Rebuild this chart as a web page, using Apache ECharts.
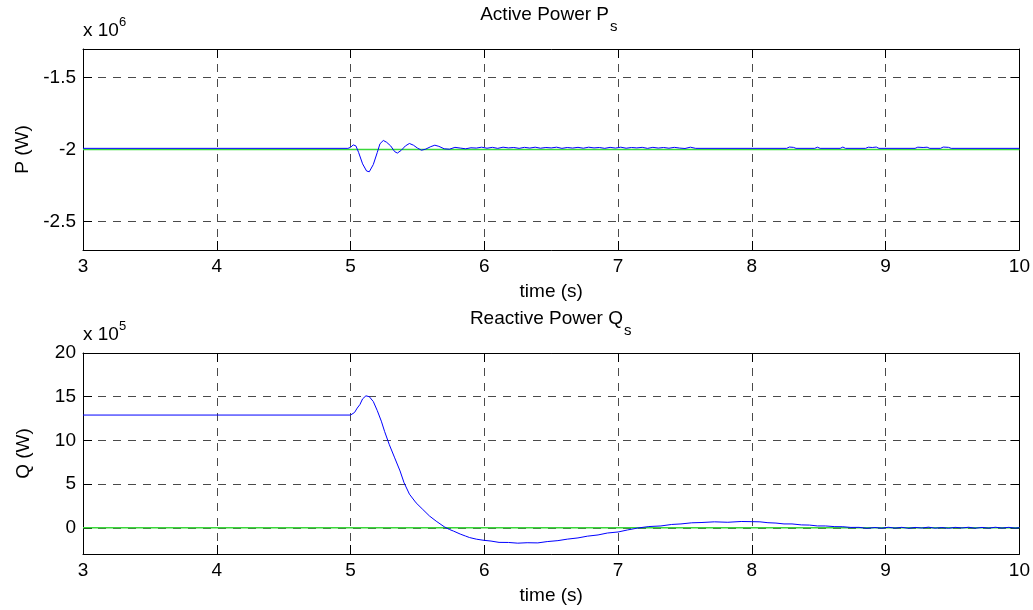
<!DOCTYPE html>
<html>
<head>
<meta charset="utf-8">
<script src="https://cdn.jsdelivr.net/npm/echarts@6/dist/echarts.min.js"></script>
<style>
html,body{margin:0;padding:0;background:#fff;}
#chart{width:1033px;height:610px;}
</style>
</head>
<body>
<div id="chart"></div>
<script>
// ---- data (P in units of 10^6 W, Q in units of 10^5 W, time in s) ----
const pTime = [3.00, 4.98, 5.00, 5.02, 5.04, 5.06, 5.09, 5.12, 5.14, 5.17, 5.20, 5.22, 5.245, 5.27, 5.30, 5.33, 5.35, 5.38, 5.41, 5.44, 5.47, 5.50, 5.53, 5.56, 5.60, 5.63, 5.66, 5.70, 5.74, 5.78, 5.82, 5.86, 5.90,
  5.94, 5.98, 6.02, 6.06, 6.10, 6.14, 6.18, 6.22, 6.26, 6.30, 6.34, 6.38, 6.42, 6.46, 6.50, 6.54, 6.58, 6.62, 6.66, 6.70, 6.74, 6.78, 6.82, 6.86, 6.90, 6.94, 6.98, 7.02, 7.06, 7.10, 7.14, 7.18, 7.22, 7.26, 7.30, 7.34, 7.38, 7.42, 7.46, 7.50, 7.54, 7.58,
  8.26, 8.28, 8.31, 8.33, 8.47, 8.49, 8.51, 8.66, 8.68, 8.70, 8.85, 8.87, 8.90, 8.93, 8.95, 9.22, 9.24, 9.28, 9.31, 9.33, 9.41, 9.43, 9.47, 9.49, 10.00];
const pValue = [-1.992, -1.992, -1.985, -1.968, -1.975, -2.020, -2.100, -2.150, -2.155, -2.105, -2.020, -1.960, -1.937, -1.950, -1.975, -2.015, -2.025, -2.005, -1.975, -1.958, -1.970, -1.990, -2.005, -1.998, -1.980, -1.970, -1.978, -1.995, -1.998, -1.985, -1.990, -1.995, -1.988,
  -1.990, -1.984, -1.991, -1.985, -1.992, -1.984, -1.989, -1.986, -1.992, -1.985, -1.990, -1.984, -1.991, -1.986, -1.989, -1.984, -1.992, -1.986, -1.990, -1.985, -1.991, -1.984, -1.989, -1.986, -1.992, -1.985, -1.990, -1.984, -1.991, -1.986, -1.989, -1.985, -1.992, -1.985, -1.990, -1.986, -1.991, -1.985, -1.990, -1.993, -1.984, -1.992,
  -1.992, -1.983, -1.985, -1.992, -1.992, -1.984, -1.992, -1.992, -1.983, -1.992, -1.992, -1.984, -1.986, -1.983, -1.992, -1.992, -1.984, -1.986, -1.984, -1.992, -1.992, -1.983, -1.985, -1.992, -1.992];
const pRefTime = [3, 10];
const pRefValue = [-2, -2];

const qTime = [3.00, 5.00, 5.03, 5.05, 5.07, 5.09, 5.115, 5.14, 5.17, 5.20, 5.23, 5.255, 5.29, 5.33, 5.37, 5.40, 5.44, 5.49, 5.54, 5.59, 5.64, 5.70, 5.74, 5.77, 5.82, 5.86, 5.89, 5.94, 5.99, 6.05, 6.11, 6.18, 6.25, 6.32, 6.40, 6.47, 6.55, 6.62, 6.70, 6.77, 6.85, 6.92, 7.00, 7.07, 7.15, 7.23, 7.32, 7.40, 7.47, 7.55, 7.62, 7.72, 7.82, 7.92, 8.00, 8.06, 8.12, 8.18, 8.24, 8.30, 8.37, 8.43, 8.49, 8.55, 8.62, 8.68, 8.74, 8.80, 8.86,
  8.92, 8.97, 9.02, 9.07, 9.12, 9.17, 9.22, 9.27, 9.32, 9.37, 9.42, 9.47, 9.52, 9.57, 9.62, 9.67, 9.72, 9.77, 9.82, 9.87, 9.92, 9.97, 10.00];
const qValue = [12.9, 12.9, 13.2, 13.7, 14.1, 14.75, 15.1, 15.0, 14.45, 13.4, 12.2, 11.0, 9.5, 8.0, 6.5, 5.15, 3.85, 2.85, 2.1, 1.35, 0.76, 0.12, -0.2, -0.38, -0.72, -0.95, -1.12, -1.30, -1.42, -1.52, -1.67, -1.68, -1.76, -1.71, -1.73, -1.58, -1.47, -1.30, -1.16, -0.96, -0.82, -0.60, -0.48, -0.25, -0.02, 0.14, 0.21, 0.38, 0.44, 0.57, 0.60, 0.68, 0.63, 0.72, 0.70, 0.68, 0.58, 0.54, 0.44, 0.44, 0.33, 0.31, 0.21, 0.21, 0.13, 0.12, 0.04, 0.05, -0.06,
  0.03, -0.05, 0.06, -0.04, 0.05, -0.06, 0.04, -0.03, 0.07, -0.05, 0.03, -0.06, 0.05, -0.02, 0.06, -0.05, 0.04, -0.04, 0.06, -0.03, 0.05, -0.04, 0.02];
const qRefTime = [3, 10];
const qRefValue = [0, 0];

const xTicks = [3, 4, 5, 6, 7, 8, 9, 10];
const pTicks = [-2.5, -2, -1.5];
const qTicks = [0, 5, 10, 15, 20];
const pRange = [-2.7, -1.3];
const qRange = [-3, 20];

function zip(a, b) { return a.map((v, i) => [v, b[i]]); }

const FONT = 'Liberation Sans, Arial, Helvetica, sans-serif';
const gridLine = { show: true, lineStyle: { color: '#4a4a4a', width: 1, type: [8, 7] } };
const frameLine = { show: true, onZero: false, lineStyle: { color: '#000', width: 1 } };
const tick = { show: true, inside: true, length: 9, lineStyle: { color: '#000', width: 1 } };

function xAxesFor(gridIndex) {
  return [
    { type: 'value', gridIndex, position: 'bottom', min: 3, max: 10, interval: 1,
      axisLine: frameLine, axisTick: tick, splitLine: gridLine,
      axisLabel: { color: '#000', fontSize: 19, fontFamily: FONT, margin: 7 },
      name: 'time (s)', nameLocation: 'middle', nameGap: 32,
      nameTextStyle: { color: '#000', fontSize: 19, fontFamily: FONT } },
    { type: 'value', gridIndex, position: 'top', min: 3, max: 10, interval: 1,
      axisLine: frameLine, axisTick: tick, splitLine: { show: false }, axisLabel: { show: false } }
  ];
}
function yAxesFor(gridIndex, range, ticks, name) {
  return [
    { type: 'value', gridIndex, position: 'left', min: range[0], max: range[1],
      axisLine: frameLine,
      axisTick: Object.assign({ customValues: ticks }, tick),
      splitLine: gridLine,
      axisLabel: { customValues: ticks, color: '#000', fontSize: 19, fontFamily: FONT, margin: 7 },
      name, nameLocation: 'middle', nameGap: 50,
      nameTextStyle: { color: '#000', fontSize: 19, fontFamily: FONT } },
    { type: 'value', gridIndex, position: 'right', min: range[0], max: range[1],
      axisLine: frameLine,
      axisTick: Object.assign({ customValues: ticks }, tick),
      splitLine: { show: false }, axisLabel: { show: false } }
  ];
}

function txt(x, y, text, size, align) {
  return { type: 'text', x, y, silent: true,
    style: { text, font: size + 'px ' + FONT, fill: '#000', align: align || 'left', verticalAlign: 'middle' } };
}

const option = {
  animation: false,
  backgroundColor: '#fff',
  grid: [
    { left: 83, top: 49, width: 937, height: 201 },
    { left: 83, top: 353, width: 937, height: 201 }
  ],
  xAxis: xAxesFor(0).concat(xAxesFor(1)),
  yAxis: yAxesFor(0, pRange, pTicks, 'P (W)').concat(yAxesFor(1, qRange, qTicks, 'Q (W)')),
  series: [
    { type: 'line', xAxisIndex: 0, yAxisIndex: 0, data: zip(pRefTime, pRefValue), showSymbol: false,
      lineStyle: { color: '#3ad83a', width: 1.5 } },
    { type: 'line', xAxisIndex: 0, yAxisIndex: 0, data: zip(pTime, pValue), showSymbol: false,
      lineStyle: { color: '#0000ff', width: 1 } },
    { type: 'line', xAxisIndex: 2, yAxisIndex: 2, data: zip(qRefTime, qRefValue), showSymbol: false,
      lineStyle: { color: '#3ad83a', width: 1.5 } },
    { type: 'line', xAxisIndex: 2, yAxisIndex: 2, data: zip(qTime, qValue), showSymbol: false,
      lineStyle: { color: '#0000ff', width: 1 } }
  ],
  graphic: [
    txt(609, 15, 'Active Power P', 19, 'right'),
    txt(610, 27, 's', 15),
    txt(83, 31, 'x 10', 19),
    txt(119, 22, '6', 13),
    txt(623, 319, 'Reactive Power Q', 19, 'right'),
    txt(624, 331, 's', 15),
    txt(83, 335, 'x 10', 19),
    txt(119, 326, '5', 13)
  ]
};

const chart = echarts.init(document.getElementById('chart'), null, { renderer: 'canvas' });
chart.setOption(option);
</script>
</body>
</html>
